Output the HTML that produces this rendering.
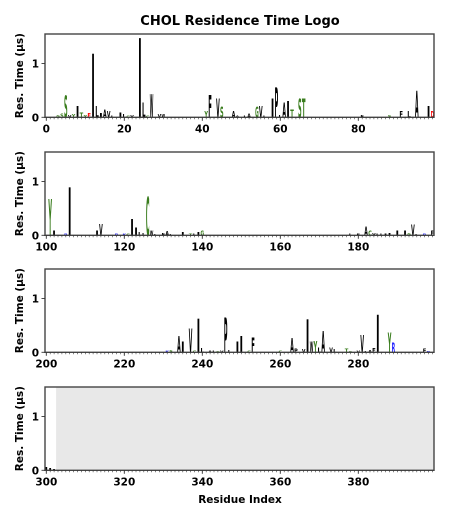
<!DOCTYPE html>
<html><head><meta charset="utf-8"><style>
html,body{margin:0;padding:0;background:#fff;}
svg text{font-family:"DejaVu Sans","Liberation Sans",sans-serif;}
</style></head><body>
<svg id="chart" width="450" height="520" viewBox="0 0 450 520" xmlns="http://www.w3.org/2000/svg">
<text x="240" y="25" text-anchor="middle" font-size="13" font-weight="bold">CHOL Residence Time Logo</text>
<g id="panels"></g>
<text x="240" y="503" text-anchor="middle" font-size="10.5" font-weight="bold">Residue Index</text>
</svg>
<script>
// residue numbers, residence times (µs) and letters
const residues = [3,4,5,6,7,8,9,10,11,12,13,14,15,16,17,19,20,21,22,24,25,26,27,29,30,41,42,44,45,48,49,51,52,54,55,56,58,59,60,61,62,63,65,66,81,88,91,93,95,98,99,
101,102,105,106,113,114,118,120,121,122,123,124,125,126,127,128,130,131,132,135,137,138,139,140,174,178,180,182,183,184,185,186,187,188,190,192,193,194,195,197,199,
231,232,234,235,237,238,239,240,242,243,244,245,246,247,249,250,252,253,260,263,264,266,267,268,269,270,271,273,274,277,278,280,281,282,283,284,285,288,289,297,298,
300,301,302];
const values = [0.05,0.07,0.41,0.05,0.06,0.22,0.1,0.05,0.08,1.19,0.22,0.08,0.14,0.12,0.04,0.1,0.06,0.04,0.05,1.47,0.28,0.04,0.43,0.06,0.06,0.12,0.42,0.35,0.2,0.12,0.03,0.04,0.07,0.2,0.22,0.03,0.35,0.55,0.05,0.28,0.3,0.15,0.35,0.35,0.05,0.05,0.12,0.12,0.5,0.22,0.12,
0.68,0.1,0.04,0.89,0.1,0.22,0.04,0.04,0.03,0.3,0.15,0.06,0.05,0.72,0.1,0.02,0.05,0.08,0.02,0.06,0.04,0.04,0.06,0.1,0.01,0.03,0.03,0.17,0.1,0.05,0.03,0.03,0.04,0.05,0.1,0.1,0.05,0.2,0.02,0.04,0.1,
0.04,0.05,0.3,0.2,0.45,0.04,0.63,0.08,0.03,0.03,0.02,0.03,0.65,0.05,0.2,0.3,0.03,0.28,0.04,0.27,0.07,0.06,0.62,0.2,0.22,0.1,0.4,0.1,0.06,0.07,0.02,0.04,0.32,0.02,0.05,0.08,0.7,0.38,0.18,0.07,0.02,
0.06,0.05,0.02];
const letters = "GSSVYITYEILIAVLILGVILCWVWYFVSAALAGVLIPLAITSTFSFLAID"+
"YIRIIVRKGIILLCWLFALITLIGSLFACVLLIIIIGVLRF"+
"KSAIVGILALSVPLIICFCAPVIWYLAVLTSVVLAFIYRFR"+
"III";
const panelStarts = [0,100,200,300];
const tickLabels = [[0,20,40,60,80],[100,120,140,160,180],[200,220,240,260,280],[300,320,340,360,380]];
const yTicks = [0,1];
const grayStart = 303;

const NS="http://www.w3.org/2000/svg";
const root=document.getElementById('panels');
const L=45,R=434,H=83.3,YMAX=1.55,PX=3.9;
const tops=[34,152,269,387];
function colorOf(c){
  if("STYGCNQ".includes(c)) return "#3a7d1e";
  if("KRH".includes(c)) return "#1f1fff";
  if("DE".includes(c)) return "#ff0000";
  return "#000";
}
function mk(tag,attrs,parent){const e=document.createElementNS(NS,tag);for(const k in attrs)e.setAttribute(k,attrs[k]);parent.appendChild(e);return e;}
panelStarts.forEach((s,pi)=>{
  const top=tops[pi],bot=top+H;
  const xs=r=>46.3+(r-s)*PX;
  const ys=v=>bot-v/YMAX*H;
  const g=mk('g',{},root);
  
  
  if(pi===3){
    const gr=mk('rect',{x:xs(grayStart)-1.9,y:top,width:R-(xs(grayStart)-1.9),height:H,fill:'#e8e8e8'},g);
    
    
  }
  residues.forEach((r,i)=>{
    if(r<s||r>=s+100) return;
    const v=values[i],c=letters[i];
    const h=ys(0)-ys(v);
    const w=PX*0.92;
    const t=mk('text',{transform:`translate(${xs(r)-w/2},${bot}) scale(1,${h/72.9})`,x:0,y:0,'font-size':100,'font-weight':'bold',fill:colorOf(c),textLength:w,lengthAdjust:'spacingAndGlyphs'},g);
    
    
    t.textContent=c;
  });
  const fr=mk('rect',{x:L,y:top,width:R-L,height:H,fill:'none',stroke:'#444',"stroke-width":1.4},g);
  
  
  for(let r=s;r<s+100;r++){
    mk('line',{x1:xs(r),x2:xs(r),y1:bot,y2:bot+2,stroke:'#333','stroke-width':0.6},g);
  }
  tickLabels[pi].forEach(t=>{
    mk('line',{x1:xs(t),x2:xs(t),y1:bot,y2:bot+3.5,stroke:'#333','stroke-width':0.9},g);
    const tl=mk('text',{x:xs(t),y:bot+15,'text-anchor':'middle','font-size':10.5,'font-weight':'bold'},g);
    
    
    tl.textContent=t;
  });
  yTicks.forEach(t=>{
    mk('line',{x1:L-3.5,x2:L,y1:ys(t),y2:ys(t),stroke:'#333','stroke-width':0.9},g);
    const tl=mk('text',{x:L-6,y:ys(t)+4,'text-anchor':'end','font-size':10.5,'font-weight':'bold'},g);
    
    
    tl.textContent=t;
  });
  const yl=mk('text',{transform:`translate(23,${top+H/2}) rotate(-90)`,'text-anchor':'middle','font-size':10.5,'font-weight':'bold'},g);
  
  
  yl.textContent='Res. Time (\u03bcs)';
});
</script>
</body></html>
